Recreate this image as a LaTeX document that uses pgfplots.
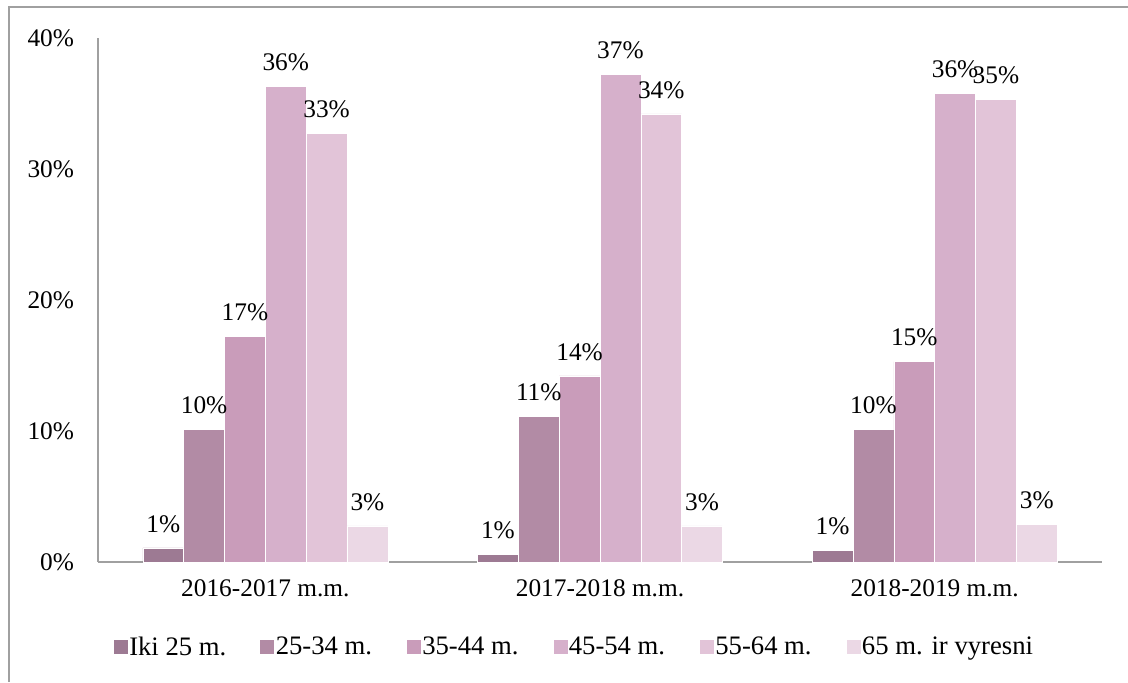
\documentclass[border=0pt]{standalone}
\usepackage{fontspec}
\setmainfont{Liberation Serif}
\usepackage{pgfplots}
\usepackage{pgfplotstable}
\pgfplotsset{compat=1.18}
\definecolor{c1}{HTML}{9D7A93}
\definecolor{c2}{HTML}{B28BA5}
\definecolor{c3}{HTML}{C99CBA}
\definecolor{c4}{HTML}{D6B0CB}
\definecolor{c5}{HTML}{E2C4D8}
\definecolor{c6}{HTML}{EBD8E5}
\definecolor{axgray}{HTML}{A0A0A0}
\newcommand\ff{\fontsize{19pt}{22pt}\selectfont}
\newcommand\lf{\fontsize{20pt}{23pt}\selectfont}
\pgfplotstableread{
x a b c d e f
0 1.07 10.1 17.2 36.3 32.7 2.75
1 0.6 11.1 14.2 37.25 34.2 2.75
2 0.9 10.1 15.3 35.8 35.3 2.9
}\data
\begin{document}
\begin{tikzpicture}
\useasboundingbox (0pt,0pt) rectangle (846pt,511.5pt);
\draw[axgray, line width=1.2pt] (6.75pt,0pt) -- (6.75pt,506.25pt) -- (846pt,506.25pt);
\begin{axis}[
  at={(73.5pt,90pt)}, anchor=south west,
  scale only axis, width=753pt, height=393pt,
  ymin=0, ymax=40, xmin=-0.5, xmax=2.5,
  enlargelimits=false, clip=false,
  axis x line*=bottom, axis y line*=left,
  axis line style={axgray, line width=1pt},
  major tick length=0pt,
  ytick={0,10,20,30,40},
  yticklabel={\pgfmathprintnumber{\tick}\%},
  xtick={0,1,2},
  xticklabels={2016-2017 m.m., 2017-2018 m.m., 2018-2019 m.m.},
  tick label style={font=\ff},
  yticklabel style={xshift=-14.5pt},
  xticklabel style={yshift=-10pt},
  /pgf/number format/assume math mode=true,
  ybar, bar width=0.122,
  every axis plot/.append style={draw=white, line width=0.4pt},
  nodes near coords={\pgfmathprintnumber[fixed,precision=0]{\pgfplotspointmeta}\%},
  nodes near coords style={font=\ff, text=black, anchor=south, yshift=8pt},
  legend columns=6,
  legend style={at={(0.0156,-0.1622)}, anchor=west, draw=none, fill=none, font=\lf,
    inner sep=0pt, nodes={inner sep=1pt}},
  legend image code/.code={\draw[#1,draw=none] (0pt,-5.25pt) rectangle (10.5pt,5.25pt);},
]
\addplot[fill=c1, bar shift=-0.305] table[x=x,y=a] {\data};
\addplot[fill=c2, bar shift=-0.183] table[x=x,y=b] {\data};
\addplot[fill=c3, bar shift=-0.061] table[x=x,y=c] {\data};
\addplot[fill=c4, bar shift=0.061] table[x=x,y=d] {\data};
\addplot[fill=c5, bar shift=0.183] table[x=x,y=e] {\data};
\addplot[fill=c6, bar shift=0.305] table[x=x,y=f] {\data};
\addlegendentry{\makebox[97.4pt][l]{Iki 25 m.}}
\addlegendentry{\makebox[97.4pt][l]{25-34 m.}}
\addlegendentry{\makebox[97.4pt][l]{35-44 m.}}
\addlegendentry{\makebox[97.4pt][l]{45-54 m.}}
\addlegendentry{\makebox[97.4pt][l]{55-64 m.}}
\addlegendentry{\makebox[97.4pt][l]{65 m. ir vyresni}}
\end{axis}
\end{tikzpicture}
\end{document}
